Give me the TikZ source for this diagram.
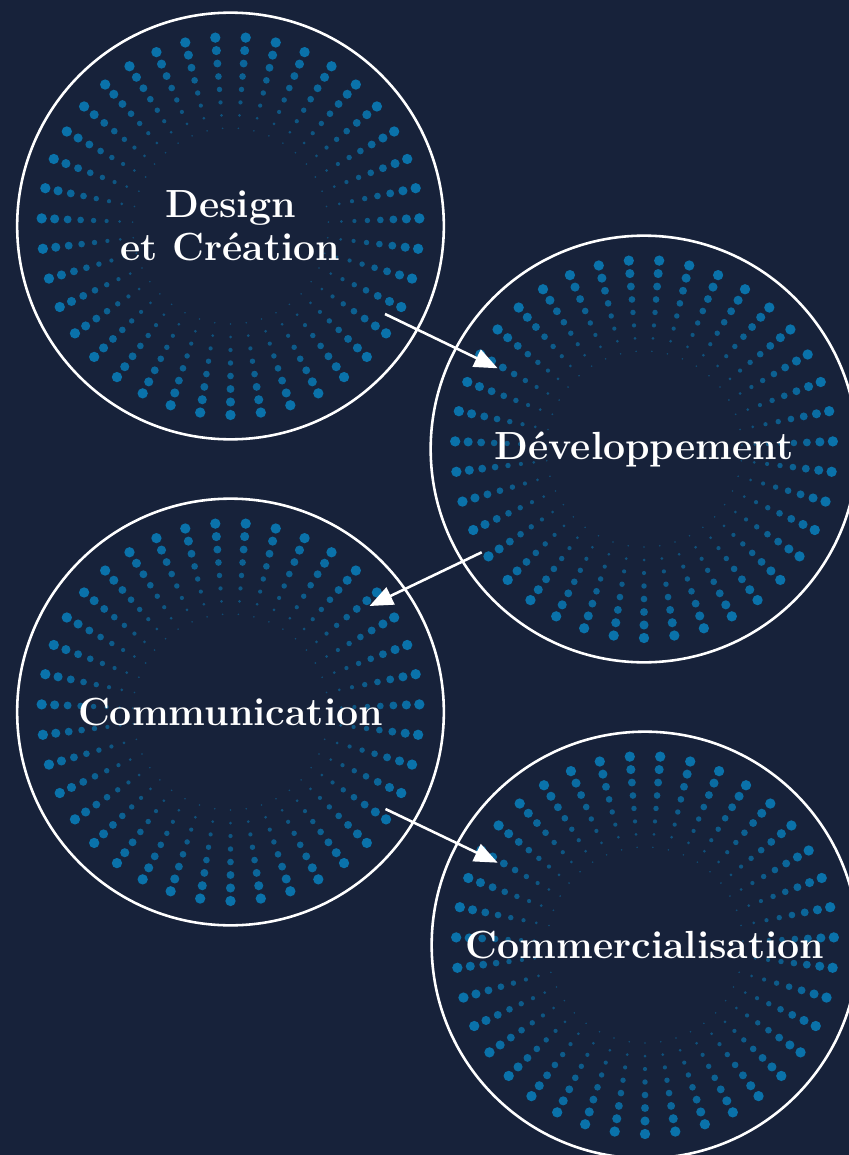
\documentclass[tikz,border=0pt]{standalone}
\usepackage{fontspec}
\usetikzlibrary{positioning, calc, arrows.meta}

\definecolor{navy}{HTML}{17223A}
\definecolor{dotblue}{HTML}{0A72AA}

\tikzset{
	stage/.style={circle, draw=white, line width=2.2pt, minimum size=12.8cm, text=white, align=center, font=\bfseries\fontsize{33.5}{36.5}\selectfont},
	flow/.style={-{Triangle[length=20pt, width=16pt]}, draw=white, line width=2.2pt}
}

\begin{document}
\begin{tikzpicture}[x=0.03cm, y=-0.03cm]
		
		\fill[navy] (0,0) rectangle (849,1155);
		\useasboundingbox (0,0) rectangle (849,1155);
		\clip (0,0) rectangle (849,1155);
		
		\coordinate (c1) at (230.5,226);
		\coordinate (c2) at (644,449);
		\coordinate (c3) at (230.5,712);
		\coordinate (c4) at (645,945);
		
		% dotted rays
		\foreach \cc in {c1,c2,c3,c4}{
			\foreach \k in {0,...,38}{
				\foreach \i in {0,...,7}{
					\pgfmathsetmacro{\rr}{4.4-0.52*\i}
					\pgfmathsetmacro{\op}{1-0.07*\i}
					\fill[dotblue, opacity=\op] ($(\cc)+({90+\k*360/39}:{189-13*\i})$) circle[radius=\rr pt];
				}
			}
		}
		
		\node[stage] (design) at (c1) {Design\\et Création};
		\node[stage] (dev) at (c2) {Développement};
		\node[stage] (comm) at (c3) {Communication};
		\node[stage] (sales) at (c4) {Commercialisation};
		
		\coordinate (a1) at ($(design.center)+(154.5,88)$);
		\coordinate (b1) at ($(dev.center)+(-146.3,-80.7)$);
		\coordinate (a2) at ($(dev.center)+(-162.3,103.3)$);
		\coordinate (b2) at ($(comm.center)+(139,-106)$);
		\coordinate (a3) at ($(comm.center)+(155,97)$);
		\coordinate (b3) at ($(sales.center)+(-147.3,-82.3)$);
		
		\draw[flow] (a1) -- (b1);
		\draw[flow] (a2) -- (b2);
		\draw[flow] (a3) -- (b3);
	\end{tikzpicture}
\end{document}
